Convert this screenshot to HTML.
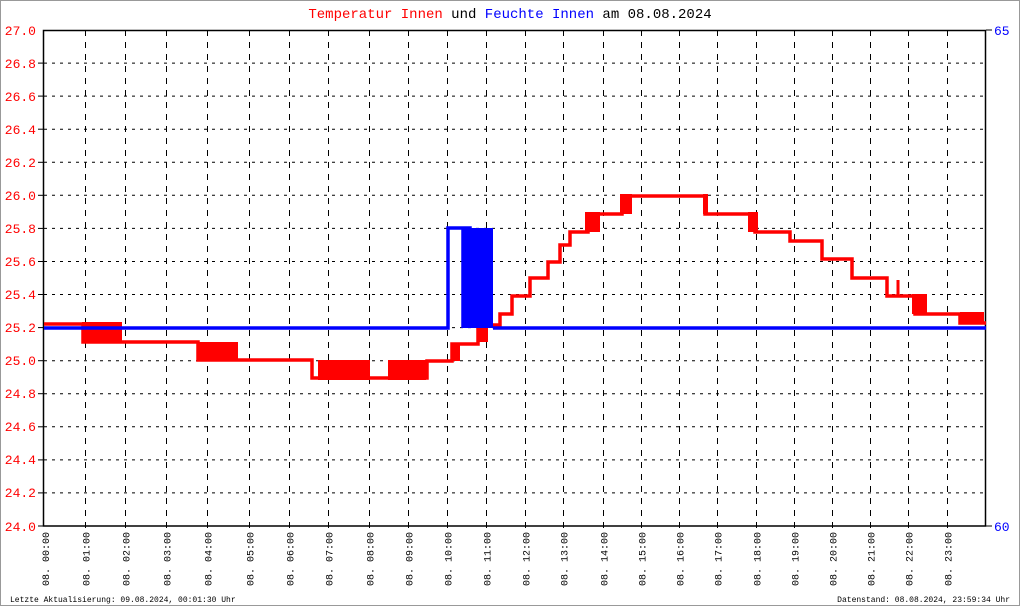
<!DOCTYPE html>
<html><head><meta charset="utf-8"><style>
html,body{margin:0;padding:0;background:#fff;}
svg{display:block;font-family:"Liberation Mono","DejaVu Sans Mono",monospace;}
</style></head><body>
<svg width="1020" height="606" viewBox="0 0 1020 606" xmlns="http://www.w3.org/2000/svg">
<rect x="0.5" y="0.5" width="1019" height="605" fill="#fff" stroke="#999"/>
<text x="510" y="18" text-anchor="middle" font-size="14"><tspan fill="#f00">Temperatur Innen</tspan><tspan fill="#000"> und </tspan><tspan fill="#00f">Feuchte Innen</tspan><tspan fill="#000"> am 08.08.2024</tspan></text>
<g stroke="#000" stroke-width="1" stroke-dasharray="3,5">
<line x1="44" x2="985" y1="63.1" y2="63.1"/><line x1="44" x2="985" y1="96.1" y2="96.1"/><line x1="44" x2="985" y1="129.2" y2="129.2"/><line x1="44" x2="985" y1="162.3" y2="162.3"/><line x1="44" x2="985" y1="195.3" y2="195.3"/><line x1="44" x2="985" y1="228.4" y2="228.4"/><line x1="44" x2="985" y1="261.5" y2="261.5"/><line x1="44" x2="985" y1="294.5" y2="294.5"/><line x1="44" x2="985" y1="327.6" y2="327.6"/><line x1="44" x2="985" y1="360.7" y2="360.7"/><line x1="44" x2="985" y1="393.7" y2="393.7"/><line x1="44" x2="985" y1="426.8" y2="426.8"/><line x1="44" x2="985" y1="459.9" y2="459.9"/><line x1="44" x2="985" y1="492.9" y2="492.9"/>
</g>
<g stroke="#000" stroke-width="1" stroke-dasharray="6,6">
<line x1="85.5" x2="85.5" y1="30" y2="530"/><line x1="125.5" x2="125.5" y1="30" y2="530"/><line x1="166.5" x2="166.5" y1="30" y2="530"/><line x1="207.5" x2="207.5" y1="30" y2="530"/><line x1="249.5" x2="249.5" y1="30" y2="530"/><line x1="289.5" x2="289.5" y1="30" y2="530"/><line x1="328.5" x2="328.5" y1="30" y2="530"/><line x1="369.5" x2="369.5" y1="30" y2="530"/><line x1="408.5" x2="408.5" y1="30" y2="530"/><line x1="447.5" x2="447.5" y1="30" y2="530"/><line x1="486.5" x2="486.5" y1="30" y2="530"/><line x1="525.5" x2="525.5" y1="30" y2="530"/><line x1="563.5" x2="563.5" y1="30" y2="530"/><line x1="603.5" x2="603.5" y1="30" y2="530"/><line x1="641.5" x2="641.5" y1="30" y2="530"/><line x1="679.5" x2="679.5" y1="30" y2="530"/><line x1="717.5" x2="717.5" y1="30" y2="530"/><line x1="756.5" x2="756.5" y1="30" y2="530"/><line x1="794.5" x2="794.5" y1="30" y2="530"/><line x1="832.5" x2="832.5" y1="30" y2="530"/><line x1="870.5" x2="870.5" y1="30" y2="530"/><line x1="908.5" x2="908.5" y1="30" y2="530"/><line x1="947.5" x2="947.5" y1="30" y2="530"/>
</g>
<rect x="43.5" y="30.5" width="942" height="495.5" fill="none" stroke="#000" stroke-width="1.5"/>
<g fill="#f00" font-size="13" text-anchor="end">
<text x="36" y="35">27.0</text><text x="36" y="68">26.8</text><text x="36" y="101">26.6</text><text x="36" y="134">26.4</text><text x="36" y="167">26.2</text><text x="36" y="200">26.0</text><text x="36" y="233">25.8</text><text x="36" y="266">25.6</text><text x="36" y="299">25.4</text><text x="36" y="332">25.2</text><text x="36" y="365">25.0</text><text x="36" y="398">24.8</text><text x="36" y="431">24.6</text><text x="36" y="464">24.4</text><text x="36" y="497">24.2</text><text x="36" y="531">24.0</text>
</g>
<g stroke="#000"><line x1="38" x2="44" y1="63.1" y2="63.1"/><line x1="38" x2="44" y1="96.1" y2="96.1"/><line x1="38" x2="44" y1="129.2" y2="129.2"/><line x1="38" x2="44" y1="162.3" y2="162.3"/><line x1="38" x2="44" y1="195.3" y2="195.3"/><line x1="38" x2="44" y1="228.4" y2="228.4"/><line x1="38" x2="44" y1="261.5" y2="261.5"/><line x1="38" x2="44" y1="294.5" y2="294.5"/><line x1="38" x2="44" y1="327.6" y2="327.6"/><line x1="38" x2="44" y1="360.7" y2="360.7"/><line x1="38" x2="44" y1="393.7" y2="393.7"/><line x1="38" x2="44" y1="426.8" y2="426.8"/><line x1="38" x2="44" y1="459.9" y2="459.9"/><line x1="38" x2="44" y1="492.9" y2="492.9"/><line x1="38" x2="44" y1="526" y2="526"/><line x1="986" x2="992" y1="526" y2="526"/><line x1="986" x2="992" y1="30" y2="30"/></g>
<text x="994" y="35" fill="#00f" font-size="13">65</text>
<text x="994" y="531" fill="#00f" font-size="13">60</text>
<g font-size="10" fill="#000">
<text transform="translate(49,586) rotate(-90)">08. 00:00</text><text transform="translate(89.5,586) rotate(-90)">08. 01:00</text><text transform="translate(129.5,586) rotate(-90)">08. 02:00</text><text transform="translate(170.5,586) rotate(-90)">08. 03:00</text><text transform="translate(211.5,586) rotate(-90)">08. 04:00</text><text transform="translate(253.5,586) rotate(-90)">08. 05:00</text><text transform="translate(293.5,586) rotate(-90)">08. 06:00</text><text transform="translate(332.5,586) rotate(-90)">08. 07:00</text><text transform="translate(373.5,586) rotate(-90)">08. 08:00</text><text transform="translate(412.5,586) rotate(-90)">08. 09:00</text><text transform="translate(451.5,586) rotate(-90)">08. 10:00</text><text transform="translate(490.5,586) rotate(-90)">08. 11:00</text><text transform="translate(529.5,586) rotate(-90)">08. 12:00</text><text transform="translate(567.5,586) rotate(-90)">08. 13:00</text><text transform="translate(607.5,586) rotate(-90)">08. 14:00</text><text transform="translate(645.5,586) rotate(-90)">08. 15:00</text><text transform="translate(683.5,586) rotate(-90)">08. 16:00</text><text transform="translate(721.5,586) rotate(-90)">08. 17:00</text><text transform="translate(760.5,586) rotate(-90)">08. 18:00</text><text transform="translate(798.5,586) rotate(-90)">08. 19:00</text><text transform="translate(836.5,586) rotate(-90)">08. 20:00</text><text transform="translate(874.5,586) rotate(-90)">08. 21:00</text><text transform="translate(912.5,586) rotate(-90)">08. 22:00</text><text transform="translate(951.5,586) rotate(-90)">08. 23:00</text>
<text x="10" y="602" font-size="8">Letzte Aktualisierung: 09.08.2024, 00:01:30 Uhr</text>
<text x="1010" y="602" font-size="8" text-anchor="end">Datenstand: 08.08.2024, 23:59:34 Uhr</text>
</g>
<g fill="#f00">
<rect x="82" y="322" width="40" height="20"/><rect x="198" y="342" width="40" height="19"/><rect x="318" y="360" width="52" height="20"/><rect x="388" y="360" width="38" height="20"/><rect x="452" y="343" width="8" height="18"/><rect x="478" y="324" width="10" height="18"/><rect x="585" y="212" width="15" height="20"/><rect x="620" y="194" width="12" height="20"/><rect x="703" y="194" width="5" height="20"/><rect x="748" y="212" width="10" height="20"/><rect x="912" y="294" width="15" height="20"/><rect x="960" y="312" width="24" height="12"/>
</g>
<path fill="none" stroke="#f00" stroke-width="3.5" d="M44 324H83V342H198V360H312V378H427V361H452V344H478V325H500V314H512V296H530V278H548V262H560V245H570V232H588V214H622V196H705V214H755V232H790V241H822V259H852V278H887V296H915V314H960V323H986"/>
<path fill="none" stroke="#f00" stroke-width="3" d="M312 378V370M393 378V368M898 296V280"/>
<path fill="none" stroke="#00f" stroke-width="3.5" d="M44 328H448V228H463V328M466 328V228H470V328M470 228V328"/>
<rect x="467" y="228" width="26" height="100" fill="#00f"/>
<rect x="463" y="228" width="2" height="50" fill="#00f"/>
<path fill="none" stroke="#00f" stroke-width="3.5" d="M493 328H986"/>
</svg>
</body></html>
